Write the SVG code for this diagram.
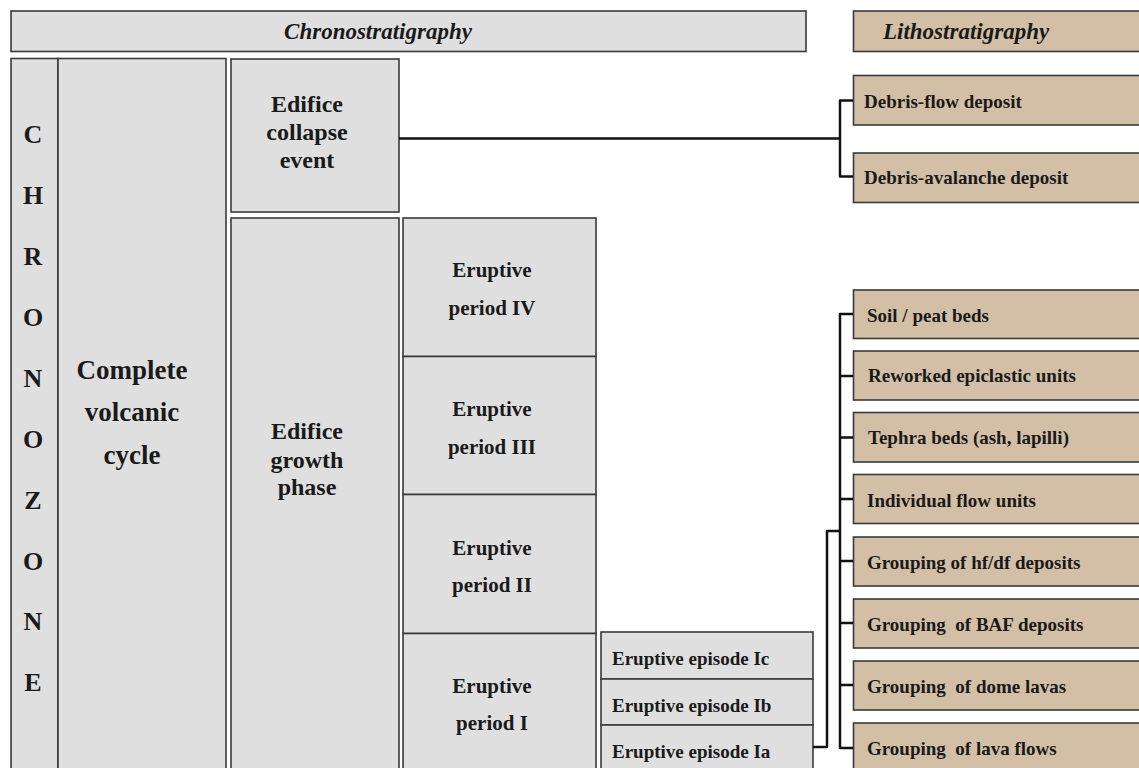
<svg xmlns="http://www.w3.org/2000/svg" width="1139" height="768" viewBox="0 0 1139 768">
<style>
.g{fill:#dfdfdf;stroke:#3a3a3a;stroke-width:1.6}
.t{fill:#d3bfa5;stroke:#3a3a3a;stroke-width:1.6}
text{font-family:"Liberation Serif","Times New Roman",serif;font-weight:bold;fill:#1a1a1a;white-space:pre}
.h{font-style:italic;font-size:23px}
.cz{font-size:26px;text-anchor:middle}
.big{font-size:27px;text-anchor:middle}
.mid{font-size:24px;text-anchor:middle}
.per{font-size:21px;text-anchor:middle}
.sm{font-size:19px}
.c{fill:none;stroke:#111;stroke-width:2.5;stroke-linejoin:round}
</style>
<rect width="1139" height="768" fill="#fff"/>
<g id="chrono-header"><rect class="g" x="11" y="11" width="795" height="40.5"/><text class="h" x="378" y="39" text-anchor="middle">Chronostratigraphy</text></g>
<g id="litho-header"><rect class="t" x="853.5" y="11" width="290" height="40.5"/><text class="h" x="883" y="39">Lithostratigraphy</text></g>
<g id="chronozone"><rect class="g" x="11" y="58.5" width="47" height="715"/>
<text class="cz" x="33" y="143">C</text><text class="cz" x="33" y="204">H</text><text class="cz" x="33" y="265">R</text><text class="cz" x="33" y="326">O</text><text class="cz" x="33" y="387">N</text><text class="cz" x="33" y="448">O</text><text class="cz" x="33" y="509">Z</text><text class="cz" x="33" y="570">O</text><text class="cz" x="33" y="630">N</text><text class="cz" x="33" y="691">E</text></g>
<g id="complete-cycle"><rect class="g" x="58" y="58.5" width="168" height="715"/><text class="big" x="132" y="379">Complete</text><text class="big" x="132" y="421">volcanic</text><text class="big" x="132" y="464">cycle</text></g>
<g id="collapse-event"><rect class="g" x="231" y="59" width="168" height="153"/><text class="mid" x="307" y="112">Edifice</text><text class="mid" x="307" y="140">collapse</text><text class="mid" x="307" y="168">event</text></g>
<g id="growth-phase"><rect class="g" x="231" y="218" width="168" height="555"/><text class="mid" x="307" y="439">Edifice</text><text class="mid" x="307" y="468">growth</text><text class="mid" x="307" y="495">phase</text></g>
<g id="period-iv"><rect class="g" x="403" y="218" width="193" height="138.5"/><text class="per" x="492" y="277">Eruptive</text><text class="per" x="492" y="315">period IV</text></g>
<g id="period-iii"><rect class="g" x="403" y="356.5" width="193" height="138"/><text class="per" x="492" y="416">Eruptive</text><text class="per" x="492" y="454">period III</text></g>
<g id="period-ii"><rect class="g" x="403" y="494.5" width="193" height="139"/><text class="per" x="492" y="555">Eruptive</text><text class="per" x="492" y="592">period II</text></g>
<g id="period-i"><rect class="g" x="403" y="633.5" width="193" height="140"/><text class="per" x="492" y="693">Eruptive</text><text class="per" x="492" y="730">period I</text></g>
<g id="episode-ic"><rect class="g" x="601" y="632" width="212" height="47"/><text class="sm" x="612" y="665">Eruptive episode Ic</text></g>
<g id="episode-ib"><rect class="g" x="601" y="679" width="212" height="46"/><text class="sm" x="612" y="712">Eruptive episode Ib</text></g>
<g id="episode-ia"><rect class="g" x="601" y="725" width="212" height="48"/><text class="sm" x="612" y="758">Eruptive episode Ia</text></g>
<g id="debris-flow"><rect class="t" x="853.5" y="75.5" width="290" height="49.5"/><text class="sm" x="864" y="108">Debris-flow deposit</text></g>
<g id="debris-avalanche"><rect class="t" x="853.5" y="153" width="290" height="49.5"/><text class="sm" x="864" y="184">Debris-avalanche deposit</text></g>
<g id="soil"><rect class="t" x="853.5" y="290" width="290" height="48.5"/><text class="sm" x="867" y="322">Soil / peat beds</text></g>
<g id="reworked"><rect class="t" x="853.5" y="351" width="290" height="49"/><text class="sm" x="868" y="382">Reworked epiclastic units</text></g>
<g id="tephra"><rect class="t" x="853.5" y="412.5" width="290" height="49.5"/><text class="sm" x="868" y="444">Tephra beds (ash, lapilli)</text></g>
<g id="flow-units"><rect class="t" x="853.5" y="474.5" width="290" height="49"/><text class="sm" x="867" y="507">Individual flow units</text></g>
<g id="hf-df"><rect class="t" x="853.5" y="537" width="290" height="49"/><text class="sm" x="867" y="569">Grouping of hf/df deposits</text></g>
<g id="baf"><rect class="t" x="853.5" y="599" width="290" height="49"/><text class="sm" x="867" y="631" xml:space="preserve">Grouping  of BAF deposits</text></g>
<g id="dome"><rect class="t" x="853.5" y="661" width="290" height="49"/><text class="sm" x="867" y="693" xml:space="preserve">Grouping  of dome lavas</text></g>
<g id="lava-flows"><rect class="t" x="853.5" y="723" width="290" height="50"/><text class="sm" x="867" y="755" xml:space="preserve">Grouping  of lava flows</text></g>
<g id="connectors">
<path class="c" d="M399 138.5 H840"/>
<path class="c" d="M853 100.5 H840 V176.5 H853"/>
<path class="c" d="M853 314 H840 V748 H853"/>
<path class="c" d="M840 376 H853 M840 437.5 H853 M840 499 H853 M840 561 H853 M840 623 H853 M840 685 H853"/>
<path class="c" d="M813 747 H827 V531 H840"/>
</g>
</svg>
